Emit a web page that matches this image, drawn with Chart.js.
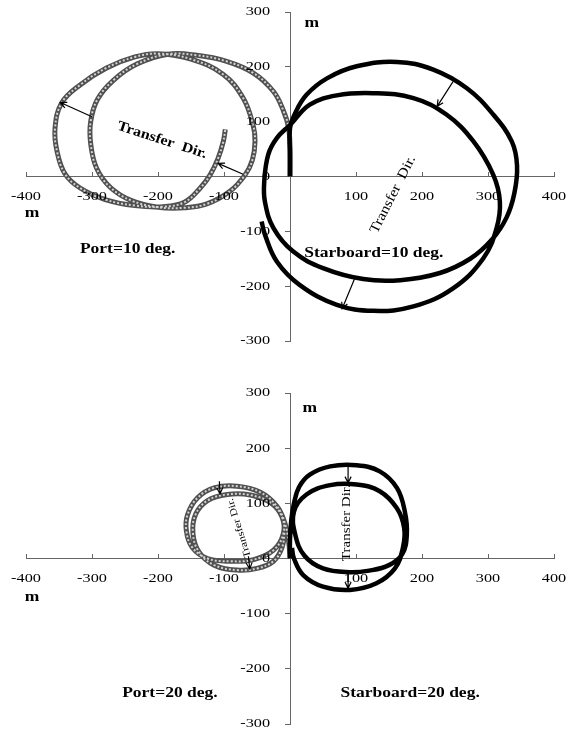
<!DOCTYPE html>
<html>
<head>
<meta charset="utf-8">
<script src="https://cdn.jsdelivr.net/npm/chart.js@4.4.0/dist/chart.umd.min.js"></script>
<style>
  body { margin: 0; background: #fff; }
  .box { position: absolute; left: 0; width: 569px; }
  #box1 { top: 0; height: 366px; }
  #box2 { top: 366px; height: 365px; }
</style>
</head>
<body>
<div class="box" id="box1"><canvas id="turn10"></canvas></div>
<div class="box" id="box2"><canvas id="turn20"></canvas></div>
<script>
// turning circle tracks, metres
const port10X = [0, 0, -2, -10, -25, -56, -96, -141, -185, -232, -268, -292, -302, -302, -293, -272, -240, -200, -160, -126, -91, -68, -57, -53, -56, -71, -101, -150, -200, -235, -278, -318, -346, -356, -353, -341, -318, -280, -235, -192, -160, -136, -121, -109, -101, -98]
const port10Y = [0, 45, 88, 120, 155, 189, 210, 221, 223, 205, 175, 140, 100, 60, 15, -20, -44, -56, -57, -50, -27, 3, 30, 64, 94, 143, 186, 214, 224, 218, 198, 167, 134, 88, 46, 5, -21, -42, -53, -55, -47, -21, 3, 33, 64, 86]

const stbd10X = [0, 0, 0, 8, 25, 56, 101, 162, 217, 268, 308, 336, 344, 340, 328, 306, 273, 227, 167, 111, 50, 5, -25, -38, -39, -33, -20, 0, 30, 71, 126, 187, 237, 278, 308, 318, 313, 293, 247, 187, 126, 71, 15, -20, -38, -43]
const stbd10Y = [0, 46, 88, 116, 149, 179, 201, 209, 195, 161, 113, 64, 20, -30, -75, -115, -150, -176, -189, -187, -167, -137, -94, -46, -9, 40, 70, 94, 131, 148, 152, 143, 113, 64, 3, -46, -94, -149, -204, -237, -245, -234, -198, -155, -106, -82]

const port20X = [0, -2, -8, -20, -45, -80, -115, -140, -155, -157, -148, -125, -90, -55, -25, -10, -12, -28, -60, -95, -125, -143, -147, -138, -115, -80, -50, -25, -12, -8]
const port20Y = [0, 30, 65, 95, 120, 131, 128, 110, 80, 50, 20, 0, -5, -2, 15, 45, 75, 100, 115, 116, 105, 80, 45, 12, -12, -21, -18, -5, 20, 50]

const stbd20X = [0, 0, 2, 6, 14, 30, 61, 101, 136, 162, 174, 177, 170, 150, 120, 90, 50, 22, 8, 6, 25, 61, 101, 136, 162, 173, 171, 159, 131, 91, 50, 20, 6, 3]
const stbd20Y = [0, 35, 70, 100, 130, 152, 167, 169, 158, 128, 85, 43, 8, -12, -22, -25, -18, 5, 43, 85, 116, 133, 134, 122, 91, 55, 19, -18, -45, -57, -51, -30, 0, 19]

const xTicks = [-400, -300, -200, -100, 0, 100, 200, 300, 400]
const yTicks = [-300, -200, -100, 0, 100, 200, 300]

function toPoints(xs, ys) {
  return xs.map((v, i) => ({x: v, y: ys[i]}))
}

function trackSets(portX, portY, stbdX, stbdY) {
  const base = {showLine: true, pointRadius: 0, tension: 0.4, fill: false}
  return [
    // port track: gray ring of beads, faked with a light dashed core
    {...base, data: toPoints(portX, portY), borderColor: '#505050', borderWidth: 5, order: 3},
    {...base, data: toPoints(portX, portY), borderColor: '#d2d2d2', borderWidth: 2, borderDash: [2, 2], order: 2},
    {...base, data: toPoints(stbdX, stbdY), borderColor: '#000', borderWidth: 4.5, order: 1}
  ]
}

// the picture is a bit wide, so text gets a horizontal stretch
function stretchText(ctx, text, px, py, font, angle, sx, align) {
  ctx.save()
  ctx.translate(px, py)
  ctx.rotate((angle || 0) * Math.PI / 180)
  ctx.scale(sx || 1.25, 1)
  ctx.font = font
  ctx.textAlign = align || 'center'
  ctx.fillText(text, 0, 0)
  ctx.restore()
}

const tickText = '13px "Liberation Serif"'

// tick labels, notes and arrows drawn in data units through the scales
const notesPlugin = {
  id: 'notes',
  afterDatasetsDraw(chart, args, opts) {
    const ctx = chart.ctx
    const sx = chart.scales.x, sy = chart.scales.y
    const x0 = sx.getPixelForValue(0), y0 = sy.getPixelForValue(0)
    ctx.save()
    ctx.fillStyle = '#000'
    ctx.textBaseline = 'middle'
    for (const t of sx.ticks) {
      if (t.value === 0) continue
      stretchText(ctx, String(t.value), sx.getPixelForValue(t.value), y0 + 20, tickText, 0, 1.25, 'center')
    }
    for (const t of sy.ticks) {
      stretchText(ctx, String(t.value), x0 - 20, sy.getPixelForValue(t.value), tickText, 0, 1.25, 'right')
    }
    for (const t of opts.texts) {
      stretchText(ctx, t.text, sx.getPixelForValue(t.x), sy.getPixelForValue(t.y), t.font, t.angle, t.sx, 'center')
    }
    ctx.strokeStyle = '#000'
    ctx.lineWidth = 1.2
    for (const a of opts.arrows) {
      const ax = sx.getPixelForValue(a[0]), ay = sy.getPixelForValue(a[1])
      const bx = sx.getPixelForValue(a[2]), by = sy.getPixelForValue(a[3])
      const ang = Math.atan2(by - ay, bx - ax)
      ctx.beginPath()
      ctx.moveTo(ax, ay)
      ctx.lineTo(bx, by)
      ctx.moveTo(bx - 7 * Math.cos(ang - 0.45), by - 7 * Math.sin(ang - 0.45))
      ctx.lineTo(bx, by)
      ctx.lineTo(bx - 7 * Math.cos(ang + 0.45), by - 7 * Math.sin(ang + 0.45))
      ctx.stroke()
    }
    ctx.restore()
  }
}

function makeChart(id, datasets, notes, pad) {
  return new Chart(document.getElementById(id), {
    type: 'scatter',
    data: {datasets: datasets},
    options: {
      responsive: true,
      maintainAspectRatio: false,
      animation: false,
      layout: {padding: pad},
      plugins: {legend: {display: false}, tooltip: {enabled: false}, notes: notes},
      scales: {
        x: {
          type: 'linear', position: {y: 0}, min: -400, max: 400,
          afterBuildTicks: s => { s.ticks = xTicks.map(v => ({value: v})) },
          ticks: {display: false},
          grid: {drawOnChartArea: false, tickLength: -5, color: '#666'},
          border: {color: '#666', width: 1}
        },
        y: {
          type: 'linear', position: {x: 0}, min: -300, max: 300,
          afterBuildTicks: s => { s.ticks = yTicks.map(v => ({value: v})) },
          ticks: {display: false},
          grid: {drawOnChartArea: false, tickLength: 5, color: '#666'},
          border: {color: '#666', width: 1}
        }
      }
    },
    plugins: [notesPlugin]
  })
}

const bold14 = 'bold 14px "Liberation Serif"'

makeChart('turn10', trackSets(port10X, port10Y, stbd10X, stbd10Y), {
  texts: [
    {text: 'Transfer  Dir.', x: -194, y: 66, angle: 18, font: bold14, sx: 1.15},
    {text: 'Transfer  Dir.', x: 156, y: -33, angle: -63, font: '14px "Liberation Serif"', sx: 1.13},
    {text: 'Port=10 deg.', x: -246, y: -133, font: bold14},
    {text: 'Starboard=10 deg.', x: 127, y: -140, font: bold14},
    {text: 'm', x: 33, y: 279, font: bold14},
    {text: 'm', x: -391, y: -68, font: bold14}
  ],
  arrows: [[-300, 109, -348, 135], [-71, 4, -109, 24], [247, 173, 223, 128], [98, -186, 79, -241]]
}, {left: 26, right: 15, top: 12, bottom: 25})

makeChart('turn20', trackSets(port20X, port20Y, stbd20X, stbd20Y), {
  texts: [
    {text: 'Transfer Dir.', x: -77, y: 55, angle: -107, font: '10px "Liberation Serif"', sx: 1.2},
    {text: 'Transfer Dir.', x: 85, y: 65, angle: -90, font: '13px "Liberation Serif"', sx: 1.15},
    {text: 'Port=20 deg.', x: -182, y: -245, font: bold14},
    {text: 'Starboard=20 deg.', x: 182, y: -245, font: bold14},
    {text: 'm', x: 30, y: 273, font: bold14},
    {text: 'm', x: -391, y: -71, font: bold14}
  ],
  arrows: [[-107, 140, -106, 117], [-63, 4, -61, -19], [88, 170, 88, 137], [88, -22, 88, -54]]
}, {left: 26, right: 15, top: 27, bottom: 7})
</script>
</body>
</html>
